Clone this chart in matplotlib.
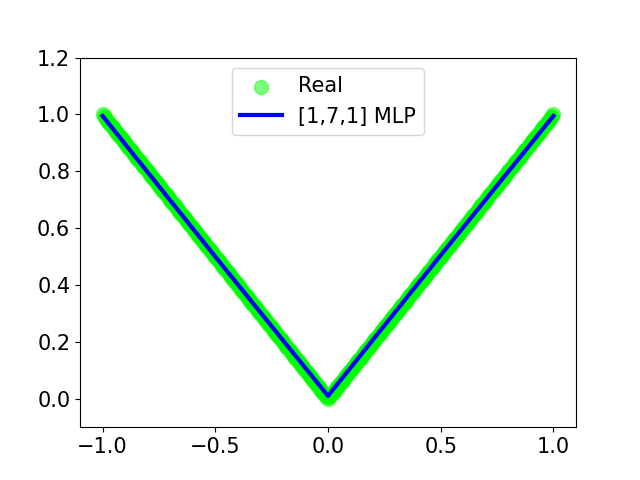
import matplotlib.pyplot as plt

# real samples of y = |x| (step 0.005)
x_real = [
    -1.000, -0.995, -0.990, -0.985, -0.980, -0.975, -0.970, -0.965, -0.960, -0.955,
    -0.950, -0.945, -0.940, -0.935, -0.930, -0.925, -0.920, -0.915, -0.910, -0.905,
    -0.900, -0.895, -0.890, -0.885, -0.880, -0.875, -0.870, -0.865, -0.860, -0.855,
    -0.850, -0.845, -0.840, -0.835, -0.830, -0.825, -0.820, -0.815, -0.810, -0.805,
    -0.800, -0.795, -0.790, -0.785, -0.780, -0.775, -0.770, -0.765, -0.760, -0.755,
    -0.750, -0.745, -0.740, -0.735, -0.730, -0.725, -0.720, -0.715, -0.710, -0.705,
    -0.700, -0.695, -0.690, -0.685, -0.680, -0.675, -0.670, -0.665, -0.660, -0.655,
    -0.650, -0.645, -0.640, -0.635, -0.630, -0.625, -0.620, -0.615, -0.610, -0.605,
    -0.600, -0.595, -0.590, -0.585, -0.580, -0.575, -0.570, -0.565, -0.560, -0.555,
    -0.550, -0.545, -0.540, -0.535, -0.530, -0.525, -0.520, -0.515, -0.510, -0.505,
    -0.500, -0.495, -0.490, -0.485, -0.480, -0.475, -0.470, -0.465, -0.460, -0.455,
    -0.450, -0.445, -0.440, -0.435, -0.430, -0.425, -0.420, -0.415, -0.410, -0.405,
    -0.400, -0.395, -0.390, -0.385, -0.380, -0.375, -0.370, -0.365, -0.360, -0.355,
    -0.350, -0.345, -0.340, -0.335, -0.330, -0.325, -0.320, -0.315, -0.310, -0.305,
    -0.300, -0.295, -0.290, -0.285, -0.280, -0.275, -0.270, -0.265, -0.260, -0.255,
    -0.250, -0.245, -0.240, -0.235, -0.230, -0.225, -0.220, -0.215, -0.210, -0.205,
    -0.200, -0.195, -0.190, -0.185, -0.180, -0.175, -0.170, -0.165, -0.160, -0.155,
    -0.150, -0.145, -0.140, -0.135, -0.130, -0.125, -0.120, -0.115, -0.110, -0.105,
    -0.100, -0.095, -0.090, -0.085, -0.080, -0.075, -0.070, -0.065, -0.060, -0.055,
    -0.050, -0.045, -0.040, -0.035, -0.030, -0.025, -0.020, -0.015, -0.010, -0.005,
    0.000, 0.005, 0.010, 0.015, 0.020, 0.025, 0.030, 0.035, 0.040, 0.045,
    0.050, 0.055, 0.060, 0.065, 0.070, 0.075, 0.080, 0.085, 0.090, 0.095,
    0.100, 0.105, 0.110, 0.115, 0.120, 0.125, 0.130, 0.135, 0.140, 0.145,
    0.150, 0.155, 0.160, 0.165, 0.170, 0.175, 0.180, 0.185, 0.190, 0.195,
    0.200, 0.205, 0.210, 0.215, 0.220, 0.225, 0.230, 0.235, 0.240, 0.245,
    0.250, 0.255, 0.260, 0.265, 0.270, 0.275, 0.280, 0.285, 0.290, 0.295,
    0.300, 0.305, 0.310, 0.315, 0.320, 0.325, 0.330, 0.335, 0.340, 0.345,
    0.350, 0.355, 0.360, 0.365, 0.370, 0.375, 0.380, 0.385, 0.390, 0.395,
    0.400, 0.405, 0.410, 0.415, 0.420, 0.425, 0.430, 0.435, 0.440, 0.445,
    0.450, 0.455, 0.460, 0.465, 0.470, 0.475, 0.480, 0.485, 0.490, 0.495,
    0.500, 0.505, 0.510, 0.515, 0.520, 0.525, 0.530, 0.535, 0.540, 0.545,
    0.550, 0.555, 0.560, 0.565, 0.570, 0.575, 0.580, 0.585, 0.590, 0.595,
    0.600, 0.605, 0.610, 0.615, 0.620, 0.625, 0.630, 0.635, 0.640, 0.645,
    0.650, 0.655, 0.660, 0.665, 0.670, 0.675, 0.680, 0.685, 0.690, 0.695,
    0.700, 0.705, 0.710, 0.715, 0.720, 0.725, 0.730, 0.735, 0.740, 0.745,
    0.750, 0.755, 0.760, 0.765, 0.770, 0.775, 0.780, 0.785, 0.790, 0.795,
    0.800, 0.805, 0.810, 0.815, 0.820, 0.825, 0.830, 0.835, 0.840, 0.845,
    0.850, 0.855, 0.860, 0.865, 0.870, 0.875, 0.880, 0.885, 0.890, 0.895,
    0.900, 0.905, 0.910, 0.915, 0.920, 0.925, 0.930, 0.935, 0.940, 0.945,
    0.950, 0.955, 0.960, 0.965, 0.970, 0.975, 0.980, 0.985, 0.990, 0.995,
    1.000]
y_real = [
    1.000, 0.995, 0.990, 0.985, 0.980, 0.975, 0.970, 0.965, 0.960, 0.955,
    0.950, 0.945, 0.940, 0.935, 0.930, 0.925, 0.920, 0.915, 0.910, 0.905,
    0.900, 0.895, 0.890, 0.885, 0.880, 0.875, 0.870, 0.865, 0.860, 0.855,
    0.850, 0.845, 0.840, 0.835, 0.830, 0.825, 0.820, 0.815, 0.810, 0.805,
    0.800, 0.795, 0.790, 0.785, 0.780, 0.775, 0.770, 0.765, 0.760, 0.755,
    0.750, 0.745, 0.740, 0.735, 0.730, 0.725, 0.720, 0.715, 0.710, 0.705,
    0.700, 0.695, 0.690, 0.685, 0.680, 0.675, 0.670, 0.665, 0.660, 0.655,
    0.650, 0.645, 0.640, 0.635, 0.630, 0.625, 0.620, 0.615, 0.610, 0.605,
    0.600, 0.595, 0.590, 0.585, 0.580, 0.575, 0.570, 0.565, 0.560, 0.555,
    0.550, 0.545, 0.540, 0.535, 0.530, 0.525, 0.520, 0.515, 0.510, 0.505,
    0.500, 0.495, 0.490, 0.485, 0.480, 0.475, 0.470, 0.465, 0.460, 0.455,
    0.450, 0.445, 0.440, 0.435, 0.430, 0.425, 0.420, 0.415, 0.410, 0.405,
    0.400, 0.395, 0.390, 0.385, 0.380, 0.375, 0.370, 0.365, 0.360, 0.355,
    0.350, 0.345, 0.340, 0.335, 0.330, 0.325, 0.320, 0.315, 0.310, 0.305,
    0.300, 0.295, 0.290, 0.285, 0.280, 0.275, 0.270, 0.265, 0.260, 0.255,
    0.250, 0.245, 0.240, 0.235, 0.230, 0.225, 0.220, 0.215, 0.210, 0.205,
    0.200, 0.195, 0.190, 0.185, 0.180, 0.175, 0.170, 0.165, 0.160, 0.155,
    0.150, 0.145, 0.140, 0.135, 0.130, 0.125, 0.120, 0.115, 0.110, 0.105,
    0.100, 0.095, 0.090, 0.085, 0.080, 0.075, 0.070, 0.065, 0.060, 0.055,
    0.050, 0.045, 0.040, 0.035, 0.030, 0.025, 0.020, 0.015, 0.010, 0.005,
    0.000, 0.005, 0.010, 0.015, 0.020, 0.025, 0.030, 0.035, 0.040, 0.045,
    0.050, 0.055, 0.060, 0.065, 0.070, 0.075, 0.080, 0.085, 0.090, 0.095,
    0.100, 0.105, 0.110, 0.115, 0.120, 0.125, 0.130, 0.135, 0.140, 0.145,
    0.150, 0.155, 0.160, 0.165, 0.170, 0.175, 0.180, 0.185, 0.190, 0.195,
    0.200, 0.205, 0.210, 0.215, 0.220, 0.225, 0.230, 0.235, 0.240, 0.245,
    0.250, 0.255, 0.260, 0.265, 0.270, 0.275, 0.280, 0.285, 0.290, 0.295,
    0.300, 0.305, 0.310, 0.315, 0.320, 0.325, 0.330, 0.335, 0.340, 0.345,
    0.350, 0.355, 0.360, 0.365, 0.370, 0.375, 0.380, 0.385, 0.390, 0.395,
    0.400, 0.405, 0.410, 0.415, 0.420, 0.425, 0.430, 0.435, 0.440, 0.445,
    0.450, 0.455, 0.460, 0.465, 0.470, 0.475, 0.480, 0.485, 0.490, 0.495,
    0.500, 0.505, 0.510, 0.515, 0.520, 0.525, 0.530, 0.535, 0.540, 0.545,
    0.550, 0.555, 0.560, 0.565, 0.570, 0.575, 0.580, 0.585, 0.590, 0.595,
    0.600, 0.605, 0.610, 0.615, 0.620, 0.625, 0.630, 0.635, 0.640, 0.645,
    0.650, 0.655, 0.660, 0.665, 0.670, 0.675, 0.680, 0.685, 0.690, 0.695,
    0.700, 0.705, 0.710, 0.715, 0.720, 0.725, 0.730, 0.735, 0.740, 0.745,
    0.750, 0.755, 0.760, 0.765, 0.770, 0.775, 0.780, 0.785, 0.790, 0.795,
    0.800, 0.805, 0.810, 0.815, 0.820, 0.825, 0.830, 0.835, 0.840, 0.845,
    0.850, 0.855, 0.860, 0.865, 0.870, 0.875, 0.880, 0.885, 0.890, 0.895,
    0.900, 0.905, 0.910, 0.915, 0.920, 0.925, 0.930, 0.935, 0.940, 0.945,
    0.950, 0.955, 0.960, 0.965, 0.970, 0.975, 0.980, 0.985, 0.990, 0.995,
    1.000]

# mlp prediction (piecewise linear)
x_mlp = [-1.0, -0.5, 0.0, 0.5, 1.0]
y_mlp = [0.995, 0.50, 0.01, 0.505, 0.995]

plt.rcParams['font.size'] = 15

fig = plt.figure(figsize=(6.4, 4.8), dpi=100)
plt.scatter(x_real, y_real, s=100, c='lime', alpha=0.5, label='Real')
plt.plot(x_mlp, y_mlp, c='blue', lw=3, label='[1,7,1] MLP')
plt.ylim(-0.1, 1.2)
plt.legend(loc='upper center')
plt.savefig('out.png')
